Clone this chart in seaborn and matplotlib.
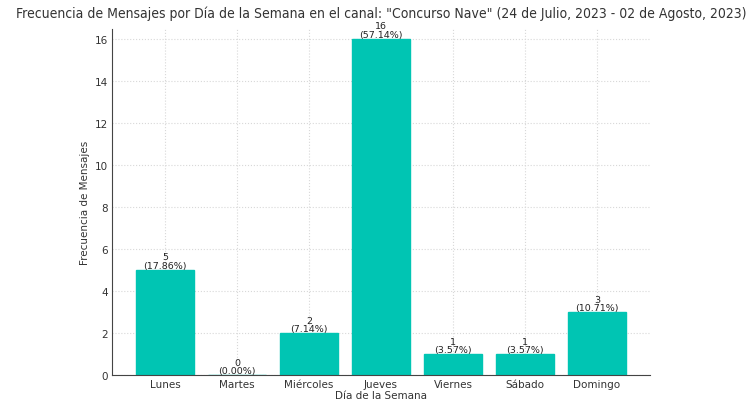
import matplotlib
matplotlib.use("Agg")
import matplotlib.pyplot as plt
import seaborn as sns
import pandas as pd

# datos
dias = ["Lunes", "Martes", "Miércoles", "Jueves", "Viernes", "Sábado", "Domingo"]
mensajes = [5, 0, 2, 16, 1, 1, 3]
porcentajes = [17.86, 0.00, 7.14, 57.14, 3.57, 3.57, 10.71]

df = pd.DataFrame({"dia": dias, "mensajes": mensajes})

sns.set_style("whitegrid", {"grid.linestyle": ":", "grid.color": "#dddddd"})
plt.rcParams['font.family'] = ['DejaVu Sans']

fig, ax = plt.subplots(figsize=(7.56, 4.02), dpi=100)
fig.subplots_adjust(left=0.148, right=0.86, bottom=0.065, top=0.925)

sns.barplot(data=df, x="dia", y="mensajes", color="#00c5b3", saturation=1,
            width=0.8, edgecolor="#00c5b3", ax=ax)

for i, (m, p) in enumerate(zip(mensajes, porcentajes)):
    ax.text(i, m, f"{m}\n({p:.2f}%)", ha="center", va="bottom",
            fontsize=6.8, linespacing=0.9, color="#222222")

ax.set_xlim(-0.74, 6.74)
ax.set_ylim(0, 16.45)
ax.set_yticks(range(0, 17, 2))
ax.set_xlabel("Día de la Semana", fontsize=7.5, labelpad=1, color="#333333")
ax.set_ylabel("Frecuencia de Mensajes", fontsize=7.5, labelpad=3, color="#333333")
ax.tick_params(axis="both", labelsize=7.5, length=2, pad=1, colors="#333333")
ax.grid(True, axis="both", linestyle=":", color="#d8d8d8")
for s in ["top", "right"]:
    ax.spines[s].set_visible(False)
for s in ["left", "bottom"]:
    ax.spines[s].set_color("#444444")
ax.set_title('Frecuencia de Mensajes por Día de la Semana en el canal: "Concurso Nave" (24 de Julio, 2023 - 02 de Agosto, 2023)',
             fontsize=10, fontstretch="condensed", color="#333333", pad=9, x=0.5)

plt.savefig("out.png", dpi=100)
